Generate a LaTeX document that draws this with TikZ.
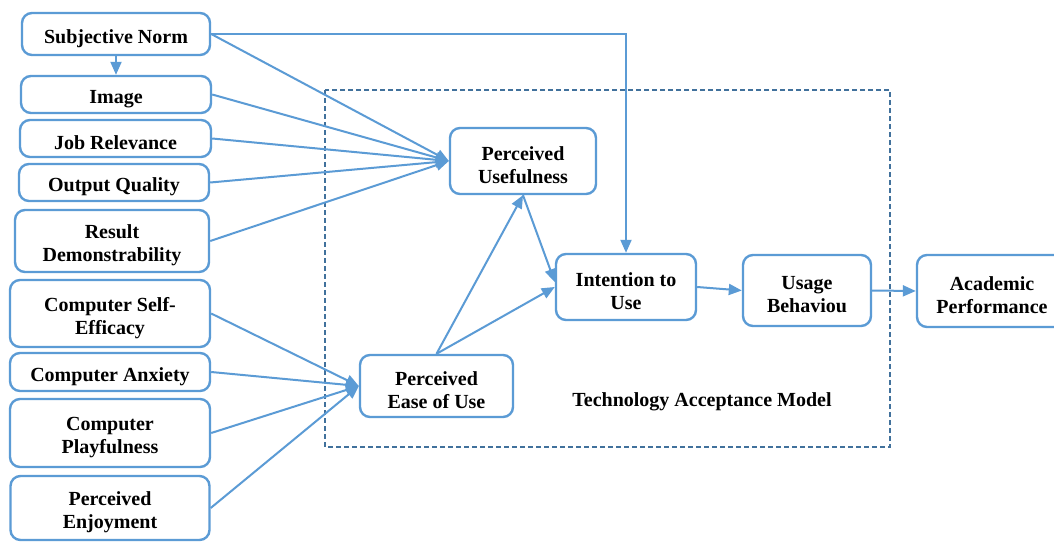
\documentclass[tikz,border=0pt]{standalone}
\usepackage{fontspec}
\setmainfont{Liberation Serif}
\usetikzlibrary{arrows.meta,calc}
\definecolor{boxblue}{RGB}{91,155,213}
\definecolor{dashblue}{RGB}{65,113,156}
\begin{document}
\begin{tikzpicture}[x=1pt,y=-1pt,
  lbl/.style={font=\fontsize{20}{23}\selectfont\bfseries, inner sep=0pt, align=center},
  box/.style={draw=boxblue, fill=white, line width=2.4pt, rounded corners=10pt,
    inner sep=0pt, anchor=center, label={[lbl, yshift=-4.5pt]center:{#1}}},
  arr/.style={draw=boxblue, line width=2pt, -{Triangle[length=13pt,width=11pt]}},
  tam/.style={draw=dashblue, line width=1.8pt, dash pattern=on 5pt off 3pt}
  ]
\useasboundingbox (0,0) rectangle (1054,543);
\fill[white] (0,0) rectangle (1054,543);

% Technology Acceptance Model frame
\draw[tam] (325,90) rectangle (890,447);
\node[lbl] (tamlabel) at (702,402) {Technology Acceptance Model};

% left boxes
\node[box={Subjective Norm}, minimum width=188pt, minimum height=42pt] (SN) at (116,34) {};
\node[box={Image}, minimum width=190pt, minimum height=37pt] (IM) at (116,94.5) {};
\node[box={Job Relevance}, minimum width=191pt, minimum height=37pt] (JR) at (115.5,138.5) {};
\node[box={Output Quality}, minimum width=190pt, minimum height=37pt] (OQ) at (114,182.5) {};
\node[box={Result\\Demonstrability}, minimum width=194pt, minimum height=62pt] (RD) at (112,241) {};
\node[box={Computer Self-\\Efficacy}, minimum width=200pt, minimum height=67pt] (CSE) at (110,313.5) {};
\node[box={Computer Anxiety}, minimum width=200pt, minimum height=38pt] (CA) at (110,372) {};
\node[box={Computer\\Playfulness}, minimum width=200pt, minimum height=68pt] (CP) at (110,433) {};
\node[box={Perceived\\Enjoyment}, minimum width=199pt, minimum height=64pt] (PE) at (110,508) {};

% TAM boxes
\node[box={Perceived\\Usefulness}, minimum width=146pt, minimum height=66pt] (PU) at (523,161) {};
\node[box={Perceived\\Ease of Use}, minimum width=153pt, minimum height=62pt] (PEOU) at (436.5,386) {};
\node[box={Intention to\\Use}, minimum width=140pt, minimum height=66pt] (ITU) at (626,287) {};
\node[box={Usage\\Behaviou}, minimum width=128pt, minimum height=71pt] (UB) at (807,290.5) {};
\node[box={Academic\\Performance}, minimum width=150pt, minimum height=72pt] (AP) at (992,291) {};

% connectors
\draw[arr] (SN.south) -- (IM.north);
\draw[arr] (SN.east) -- (PU.west);
\draw[arr] (SN.east) -| (ITU.north);
\draw[arr] (IM.east) -- (PU.west);
\draw[arr] (JR.east) -- (PU.west);
\draw[arr] (OQ.east) -- (PU.west);
\draw[arr] (RD.east) -- (PU.west);

\draw[arr] (CSE.east) -- (PEOU.west);
\draw[arr] (CA.east) -- (PEOU.west);
\draw[arr] (CP.east) -- (PEOU.west);
\draw[arr] (PE.east) -- (PEOU.west);

\draw[arr] (PEOU.north) -- (PU.south);
\draw[arr] (PEOU.north) -- (ITU.west);
\draw[arr] (PU.south) -- (ITU.176);
\draw[arr] (ITU.east) -- (UB.west);
\draw[arr] (UB.east) -- (AP.west);
\end{tikzpicture}
\end{document}
